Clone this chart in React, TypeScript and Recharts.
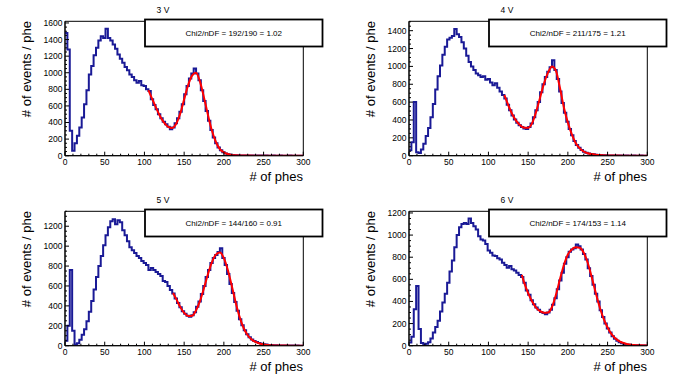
import { ComposedChart, Line, XAxis, YAxis, ReferenceArea } from 'recharts';

// histogram bins are 3 phes wide, starting at 0
const BIN = 3;
const X_MAX = 300;

const range = (a: number, b: number, s: number) => {
  const out: number[] = [];
  for (let v = a; v <= b; v += s) out.push(v);
  return out;
};
const X_TICKS = range(0, 300, 10);

// counts per bin, 3 V
const HIST_3V = [
  1480, 1280, 300, 60, 150, 240, 340, 460, 620, 790,
  980, 1080, 1210, 1300, 1390, 1440, 1420, 1530, 1420, 1390,
  1340, 1290, 1220, 1170, 1120, 1070, 1030, 980, 950, 910,
  880, 900, 850, 840, 800, 780, 680, 610, 560, 500,
  450, 410, 380, 350, 320, 340, 390, 450, 530, 620,
  740, 840, 930, 990, 1050, 990, 910, 790, 660, 540,
  420, 310, 220, 150, 100, 65, 42, 28, 18, 12,
  8, 5, 4, 3, 2, 2, 1, 2, 1, 1,
  0, 1, 1, 0, 1, 0, 0, 1, 0, 0,
  1, 0, 0, 0, 1, 0, 0, 0, 0, 0,
];
const FIT_3V: [number, number][] = [
  [105, 790], [110, 680], [115, 570], [120, 470], [125, 395], [130, 348], [135, 335],
  [140, 385], [145, 505], [150, 680], [155, 850], [160, 965], [165, 1000], [170, 890],
  [175, 700], [180, 490], [185, 300], [190, 165], [195, 80], [200, 40], [205, 20],
  [210, 10], [215, 5], [220, 3], [230, 1], [240, 0], [260, 0], [280, 0], [300, 0],
];

// 4 V
const HIST_4V = [
  60, 150, 600, 40, 30, 70, 135, 220, 310, 430,
  580, 740, 890, 1010, 1130, 1220, 1300, 1320, 1340, 1420,
  1360, 1330, 1270, 1200, 1120, 1050, 1000, 960, 920, 900,
  880, 890, 850, 860, 820, 790, 810, 760, 720, 680,
  640, 570, 510, 450, 405, 370, 340, 320, 305, 300,
  320, 360, 430, 510, 600, 710, 800, 880, 940, 990,
  1070, 960, 860, 720, 590, 480, 380, 300, 230, 165,
  120, 88, 65, 45, 33, 25, 20, 16, 12, 9,
  7, 5, 4, 3, 2, 2, 1, 2, 1, 0,
  1, 1, 0, 0, 1, 0, 0, 1, 0, 0,
];
const FIT_4V: [number, number][] = [
  [120, 680], [125, 565], [130, 465], [135, 390], [140, 340], [145, 312], [150, 312],
  [155, 365], [160, 490], [165, 650], [170, 810], [175, 930], [180, 1000], [185, 950],
  [190, 760], [195, 540], [200, 370], [205, 240], [210, 140], [215, 82], [220, 47],
  [225, 28], [230, 18], [235, 11], [240, 7], [250, 3], [260, 1], [270, 0], [285, 0], [300, 0],
];

// 5 V
const HIST_5V = [
  50, 200, 760, 150, 12, 25, 60, 110, 165, 245,
  340, 450, 565, 690, 800, 900, 1010, 1110, 1190, 1250,
  1270, 1220, 1260, 1240, 1160, 1110, 1050, 990, 960, 930,
  900, 880, 850, 830, 810, 760, 780, 760, 740, 720,
  700, 650, 640, 600, 560, 525, 475, 430, 385, 345,
  320, 300, 290, 305, 335, 390, 445, 520, 600, 690,
  760, 830, 880, 910, 940, 980, 880, 810, 720, 620,
  530, 440, 350, 265, 205, 155, 115, 85, 62, 47,
  36, 27, 20, 15, 11, 8, 6, 5, 4, 3,
  3, 2, 2, 1, 2, 1, 0, 1, 0, 0,
];
const FIT_5V: [number, number][] = [
  [136, 530], [140, 470], [145, 390], [150, 330], [155, 298], [160, 300], [165, 355],
  [170, 450], [175, 580], [180, 720], [185, 840], [190, 915], [195, 935], [200, 880],
  [205, 760], [210, 600], [215, 430], [220, 285], [225, 175], [230, 105], [235, 62],
  [240, 38], [245, 22], [250, 13], [255, 8], [260, 5], [270, 2], [280, 1], [290, 0], [300, 0],
];

// 6 V
const HIST_6V = [
  30, 80, 330, 540, 150, 25, 12, 18, 32, 65,
  120, 170, 225, 310, 390, 470, 570, 670, 770, 890,
  1000, 1070, 1100, 1110, 1100, 1150, 1110, 1080, 1050, 990,
  960, 950, 920, 860, 840, 815, 810, 790, 780, 750,
  730, 705, 720, 690, 680, 660, 640, 620, 570, 500,
  460, 410, 375, 345, 325, 305, 295, 285, 300, 325,
  370, 430, 510, 590, 660, 740, 800, 850, 870, 880,
  915, 900, 870, 830, 780, 700, 630, 550, 470, 400,
  320, 260, 200, 155, 120, 85, 62, 45, 32, 22,
  15, 11, 8, 6, 4, 3, 2, 2, 1, 1,
];
const FIT_6V: [number, number][] = [
  [142, 640], [145, 570], [150, 475], [155, 400], [160, 345], [165, 312], [170, 298],
  [175, 300], [180, 350], [185, 460], [190, 600], [195, 730], [200, 825], [205, 870],
  [210, 890], [215, 885], [220, 840], [225, 750], [230, 620], [235, 480], [240, 350],
  [245, 245], [250, 165], [255, 105], [260, 65], [265, 40], [270, 24], [275, 14],
  [280, 8], [285, 5], [290, 3], [300, 1],
];

const PANELS = [
  { title: '3 V', chi2: 'Chi2/nDF = 192/190 = 1.02', hist: HIST_3V, fit: FIT_3V, yMax: 1620 },
  { title: '4 V', chi2: 'Chi2/nDF = 211/175 = 1.21', hist: HIST_4V, fit: FIT_4V, yMax: 1505 },
  { title: '5 V', chi2: 'Chi2/nDF = 144/160 = 0.91', hist: HIST_5V, fit: FIT_5V, yMax: 1350 },
  { title: '6 V', chi2: 'Chi2/nDF = 174/153 = 1.14', hist: HIST_6V, fit: FIT_6V, yMax: 1215 },
];

const W = 340;
const H = 190;
const TM = 3;
const HIST_COLOR = '#1a1a96';

function XTick({ x, y, payload }: any) {
  const v = payload.value;
  const major = v % 50 === 0;
  const y0 = y - TM;
  return (
    <g>
      <line x1={x} x2={x} y1={y0} y2={y0 - (major ? 4 : 2)} stroke="#000" />
      {major && (
        <text x={x} y={y0 + 9.5} textAnchor="middle" fontSize={8.5} fill="#000">
          {v}
        </text>
      )}
    </g>
  );
}

function YTick({ x, y, payload }: any) {
  const v = payload.value;
  const major = v % 200 === 0;
  const x0 = x + TM;
  return (
    <g>
      <line x1={x0} x2={x0 + (major ? 4 : 2)} y1={y} y2={y} stroke="#000" />
      {major && (
        <text x={x0 - 2.5} y={y} dy="0.35em" textAnchor="end" fontSize={8.5} fill="#000">
          {v}
        </text>
      )}
    </g>
  );
}

function toSteps(vals: number[]) {
  const pts = vals.map((v, i) => ({ x: i * BIN, y: v }));
  pts.push({ x: vals.length * BIN, y: vals[vals.length - 1] });
  return pts;
}

function Panel({ cfg, left, top }: { cfg: typeof PANELS[number]; left: number; top: number }) {
  const hist = toSteps(cfg.hist);
  const fit = cfg.fit.map(([x, y]) => ({ x, y }));
  const yTicks = range(0, cfg.yMax, 50);
  return (
    <div style={{ position: 'absolute', left, top, width: W, height: H }}>
      <ComposedChart width={W} height={H} margin={{ top: 21.3, right: 36.7, bottom: 14.3, left: 20 }}>
        <XAxis
          dataKey="x"
          type="number"
          domain={[0, X_MAX]}
          ticks={X_TICKS}
          interval={0}
          tickSize={0}
          tickMargin={TM}
          tickLine={false}
          tick={XTick}
          height={20}
          axisLine={{ stroke: '#000' }}
          allowDataOverflow
        />
        <YAxis
          type="number"
          domain={[0, cfg.yMax]}
          ticks={yTicks}
          interval={0}
          tickSize={0}
          tickMargin={TM}
          tickLine={false}
          tick={YTick}
          width={45}
          axisLine={{ stroke: '#000' }}
          allowDataOverflow
        />
        <ReferenceArea x1={0} x2={X_MAX} y1={0} y2={cfg.yMax} fill="none" stroke="#000" strokeWidth={1} />
        <Line
          data={hist}
          dataKey="y"
          type="stepAfter"
          stroke={HIST_COLOR}
          strokeWidth={2}
          dot={false}
          activeDot={false}
          isAnimationActive={false}
        />
        <Line
          data={fit}
          dataKey="y"
          type="monotone"
          stroke="#ff0000"
          strokeWidth={2}
          dot={false}
          activeDot={false}
          isAnimationActive={false}
        />
      </ComposedChart>
      <svg width={W} height={H} style={{ position: 'absolute', left: 0, top: 0, overflow: 'visible', pointerEvents: 'none' }}>
        <text x={163} y={12.7} textAnchor="middle" fontSize={8.5} fill="#000">{cfg.title}</text>
        <rect x={145} y={19.5} width={177.5} height={27} fill="#fff" stroke="#000" strokeWidth={1.8} />
        <text x={233.75} y={36.2} textAnchor="middle" fontSize={8} fill="#000">{cfg.chi2}</text>
        <text x={303} y={181} textAnchor="end" fontSize={13} fill="#000"># of phes</text>
        <text transform="rotate(-90)" x={-21} y={31} textAnchor="end" fontSize={13} fill="#000"># of events / phe</text>
      </svg>
    </div>
  );
}

export default function App() {
  return (
    <div
      style={{
        position: 'absolute',
        left: 0,
        top: 0,
        width: 687,
        height: 379,
        background: '#fff',
        fontFamily: '"Liberation Sans", Arial, sans-serif',
      }}
    >
      {PANELS.map((p, i) => (
        <Panel key={p.title} cfg={p} left={(i % 2) * 344} top={Math.floor(i / 2) * 190} />
      ))}
    </div>
  );
}
